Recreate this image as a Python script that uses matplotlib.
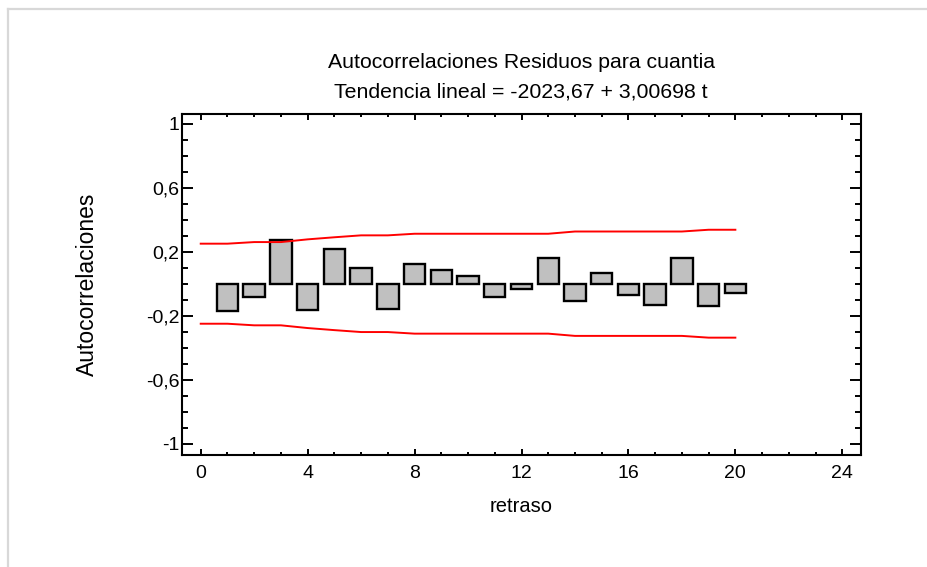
import matplotlib
matplotlib.use("Agg")
from matplotlib import pyplot as plt
from matplotlib.lines import Line2D
import numpy as np

# autocorrelaciones de los residuos, retrasos 1..20
lags = list(range(1, 21))
acf = [-0.17, -0.08, 0.27, -0.165, 0.215, 0.095, -0.155, 0.12, 0.085, 0.05,
       -0.08, -0.03, 0.16, -0.105, 0.065, -0.07, -0.13, 0.16, -0.14, -0.055]

# limites de probabilidad, retrasos 0..20
limit_lags = list(range(0, 21))
upper = [0.25, 0.25, 0.26, 0.26, 0.277, 0.29, 0.302, 0.302, 0.312, 0.312, 0.312,
         0.312, 0.312, 0.312, 0.326, 0.326, 0.326, 0.326, 0.326, 0.337, 0.337]
lower = [-u for u in upper]

xticks = [0, 4, 8, 12, 16, 20, 24]
yticks = [-1, -0.6, -0.2, 0.2, 0.6, 1]
ytick_labels = ["-1", "-0,6", "-0,2", "0,2", "0,6", "1"]

plt.rcParams['font.family'] = ['Liberation Sans', 'DejaVu Sans']

fig = plt.figure(figsize=(9.27, 5.67), dpi=100)
ax = fig.add_axes([182/927, 1-455/567, (861-182)/927, (455-114)/567])

ax.bar(lags, acf, width=0.8, color='#c0c0c0', edgecolor='black', linewidth=1.7, zorder=2)
ax.plot(limit_lags, upper, color='red', lw=1.4, zorder=3)
ax.plot(limit_lags, lower, color='red', lw=1.4, zorder=3)

ax.set_xlim(-0.7, 24.7)
ax.set_ylim(-1.07, 1.06)
ax.set_xticks(xticks)
ax.set_xticks(np.arange(0, 25, 1), minor=True)
ax.set_yticks(yticks)
ax.set_yticklabels(ytick_labels)
ax.set_yticks(np.arange(-1.0, 1.01, 0.1), minor=True)

ax.tick_params(axis='both', which='both', direction='in', top=True, right=True,
               labelsize=14, width=1.4)
ax.tick_params(axis='y', which='major', length=8, pad=2)
ax.tick_params(axis='y', which='minor', length=4.5)
ax.tick_params(axis='x', which='major', length=4, pad=7)
ax.tick_params(axis='x', which='minor', length=2)
for s in ax.spines.values():
    s.set_linewidth(1.5)

ax.set_xlabel("retraso", fontsize=14.5)
ax.set_ylabel("Autocorrelaciones", fontsize=16.5)
ax.xaxis.set_label_coords(0.5, (455-497)/341)
ax.yaxis.set_label_coords((99-182)/679, 0.5)

fig.text(521/927, 1-62/567, "Autocorrelaciones Residuos para cuantia",
         ha='center', va='center', fontsize=15.3)
fig.text(521/927, 1-92/567, "Tendencia lineal = -2023,67 + 3,00698 t",
         ha='center', va='center', fontsize=15.3)

# marco gris exterior
fig.add_artist(Line2D([8/927, 1], [1-9/567, 1-9/567], color='#d8d8d8', lw=1.6,
                      transform=fig.transFigure))
fig.add_artist(Line2D([8/927, 8/927], [0, 1-9/567], color='#d8d8d8', lw=1.6,
                      transform=fig.transFigure))

fig.savefig("out.png", dpi=100)
